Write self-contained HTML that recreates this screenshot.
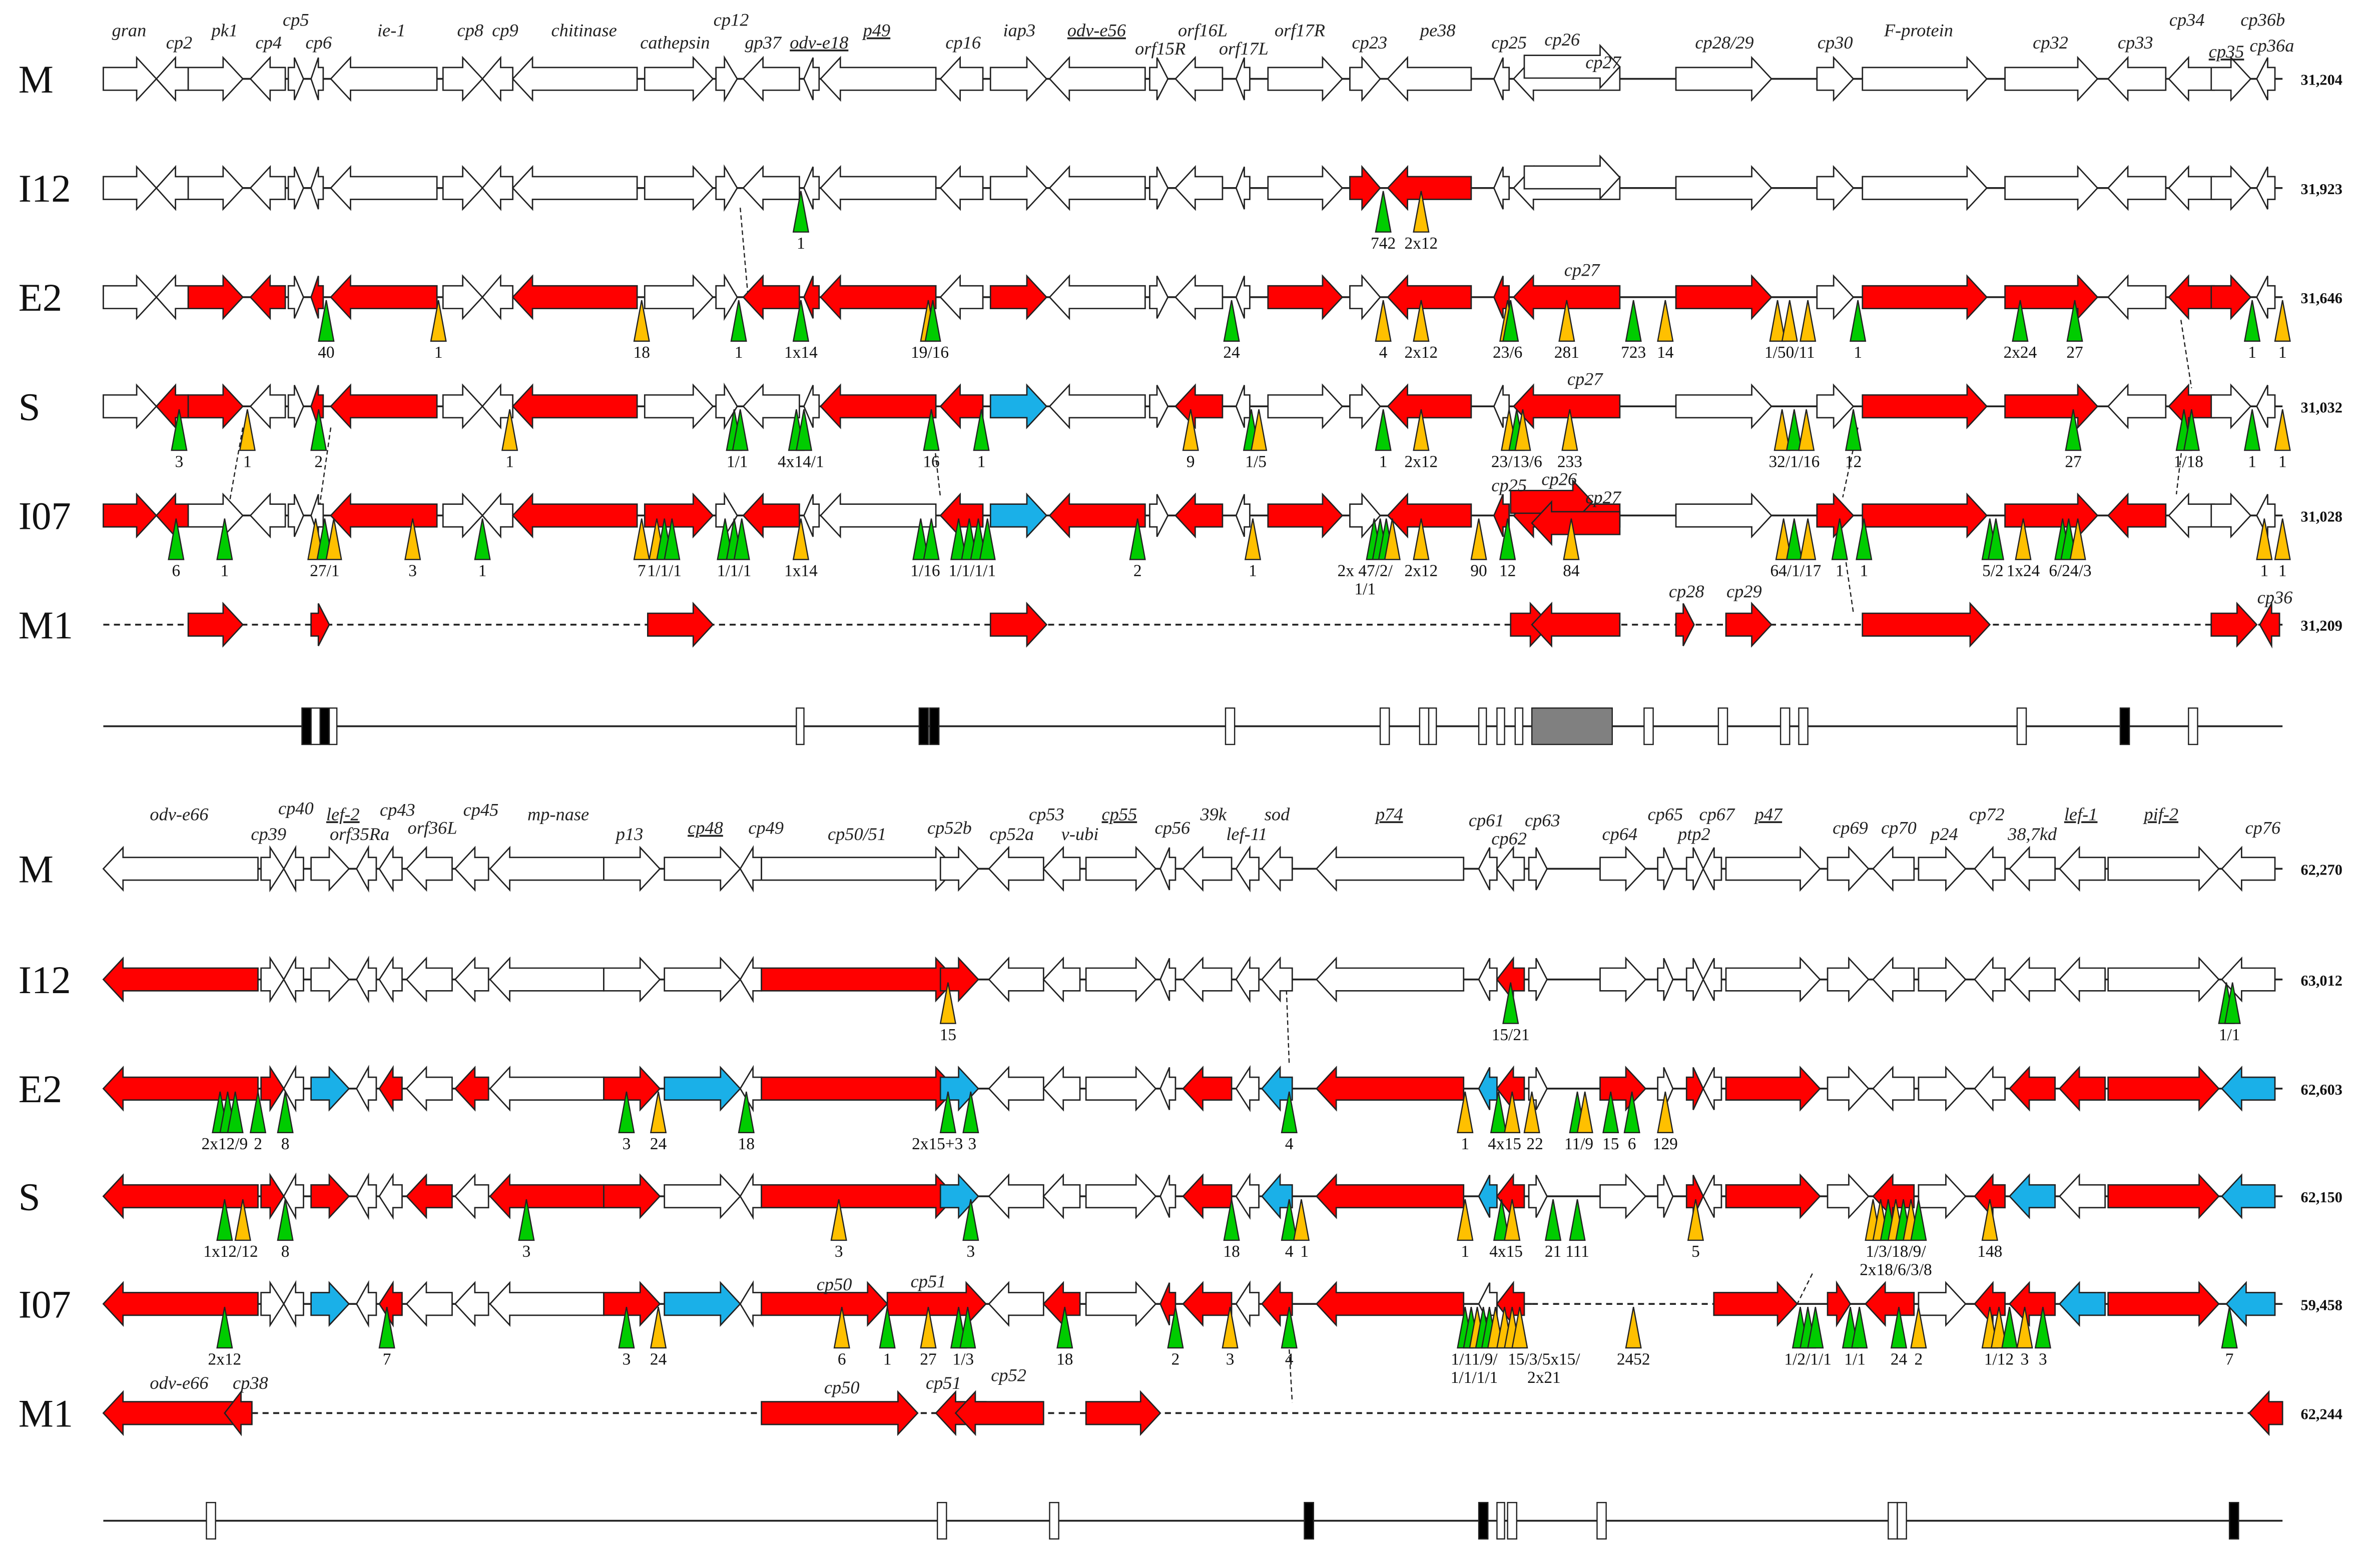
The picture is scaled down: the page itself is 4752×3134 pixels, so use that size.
<!DOCTYPE html>
<html><head><meta charset="utf-8">
<style>
html,body{margin:0;padding:0;background:#fff;}
svg{display:block;}
text{font-family:"Liberation Serif",serif;}
.g{font-style:italic;font-size:12px;fill:#222;text-anchor:middle;}
.u{text-decoration:underline;}
.row{font-size:26px;fill:#111;}
.len{font-size:10px;font-weight:bold;fill:#111;}
.n{font-size:11px;fill:#111;text-anchor:middle;}
</style></head>
<body>
<svg id="s" xmlns="http://www.w3.org/2000/svg" width="4752" height="3134" viewBox="0 0 1560 1029">
<rect width="1560" height="1029" fill="#fff"/>
<g transform="scale(0.995)">
<g id="lines"></g>
<g id="arrows"></g>
<g id="tris"></g>
<text class="row" x="12" y="61">M</text>
<text class="row" x="12" y="133">I12</text>
<text class="row" x="12" y="205">E2</text>
<text class="row" x="12" y="277">S</text>
<text class="row" x="12" y="349">I07</text>
<text class="row" x="12" y="421">M1</text>
<text class="row" x="12" y="582">M</text>
<text class="row" x="12" y="655">I12</text>
<text class="row" x="12" y="727">E2</text>
<text class="row" x="12" y="798">S</text>
<text class="row" x="12" y="869">I07</text>
<text class="row" x="12" y="941">M1</text>
<text class="len" x="1517" y="56">31,204</text>
<text class="len" x="1517" y="128">31,923</text>
<text class="len" x="1517" y="200">31,646</text>
<text class="len" x="1517" y="272">31,032</text>
<text class="len" x="1517" y="344">31,028</text>
<text class="len" x="1517" y="416">31,209</text>
<text class="len" x="1517" y="577">62,270</text>
<text class="len" x="1517" y="650">63,012</text>
<text class="len" x="1517" y="722">62,603</text>
<text class="len" x="1517" y="793">62,150</text>
<text class="len" x="1517" y="864">59,458</text>
<text class="len" x="1517" y="936">62,244</text>
<text class="g" x="85" y="24">gran</text>
<text class="g" x="118" y="32">cp2</text>
<text class="g" x="148" y="24">pk1</text>
<text class="g" x="177" y="32">cp4</text>
<text class="g" x="195" y="17">cp5</text>
<text class="g" x="210" y="32">cp6</text>
<text class="g" x="258" y="24">ie-1</text>
<text class="g" x="310" y="24">cp8</text>
<text class="g" x="333" y="24">cp9</text>
<text class="g" x="385" y="24">chitinase</text>
<text class="g" x="445" y="32">cathepsin</text>
<text class="g" x="482" y="17">cp12</text>
<text class="g" x="503" y="32">gp37</text>
<text class="g u" x="540" y="32">odv-e18</text>
<text class="g u" x="578" y="24">p49</text>
<text class="g" x="635" y="32">cp16</text>
<text class="g" x="672" y="24">iap3</text>
<text class="g u" x="723" y="24">odv-e56</text>
<text class="g" x="793" y="24">orf16L</text>
<text class="g" x="765" y="36">orf15R</text>
<text class="g" x="820" y="36">orf17L</text>
<text class="g" x="857" y="24">orf17R</text>
<text class="g" x="903" y="32">cp23</text>
<text class="g" x="948" y="24">pe38</text>
<text class="g" x="995" y="32">cp25</text>
<text class="g" x="1030" y="30">cp26</text>
<text class="g" x="1057" y="45">cp27</text>
<text class="g" x="1137" y="32">cp28/29</text>
<text class="g" x="1210" y="32">cp30</text>
<text class="g" x="1265" y="24">F-protein</text>
<text class="g" x="1352" y="32">cp32</text>
<text class="g" x="1408" y="32">cp33</text>
<text class="g" x="1442" y="17">cp34</text>
<text class="g" x="1492" y="17">cp36b</text>
<text class="g u" x="1468" y="38">cp35</text>
<text class="g" x="1498" y="34">cp36a</text>
<text class="g" x="1043" y="182">cp27</text>
<text class="g" x="1045" y="254">cp27</text>
<text class="g" x="995" y="324">cp25</text>
<text class="g" x="1028" y="320">cp26</text>
<text class="g" x="1057" y="332">cp27</text>
<text class="g" x="1112" y="394">cp28</text>
<text class="g" x="1150" y="394">cp29</text>
<text class="g" x="1500" y="398">cp36</text>
<text class="g" x="118" y="541">odv-e66</text>
<text class="g" x="177" y="554">cp39</text>
<text class="g" x="195" y="537">cp40</text>
<text class="g u" x="226" y="541">lef-2</text>
<text class="g" x="237" y="554">orf35Ra</text>
<text class="g" x="262" y="538">cp43</text>
<text class="g" x="285" y="550">orf36L</text>
<text class="g" x="317" y="538">cp45</text>
<text class="g" x="368" y="541">mp-nase</text>
<text class="g" x="415" y="554">p13</text>
<text class="g u" x="465" y="550">cp48</text>
<text class="g" x="505" y="550">cp49</text>
<text class="g" x="565" y="554">cp50/51</text>
<text class="g" x="626" y="550">cp52b</text>
<text class="g" x="667" y="554">cp52a</text>
<text class="g" x="690" y="541">cp53</text>
<text class="g" x="712" y="554">v-ubi</text>
<text class="g u" x="738" y="541">cp55</text>
<text class="g" x="773" y="550">cp56</text>
<text class="g" x="800" y="541">39k</text>
<text class="g" x="822" y="554">lef-11</text>
<text class="g" x="842" y="541">sod</text>
<text class="g u" x="916" y="541">p74</text>
<text class="g" x="980" y="545">cp61</text>
<text class="g" x="995" y="557">cp62</text>
<text class="g" x="1017" y="545">cp63</text>
<text class="g" x="1068" y="554">cp64</text>
<text class="g" x="1098" y="541">cp65</text>
<text class="g" x="1117" y="554">ptp2</text>
<text class="g" x="1132" y="541">cp67</text>
<text class="g u" x="1166" y="541">p47</text>
<text class="g" x="1220" y="550">cp69</text>
<text class="g" x="1252" y="550">cp70</text>
<text class="g" x="1282" y="554">p24</text>
<text class="g" x="1310" y="541">cp72</text>
<text class="g" x="1340" y="554">38,7kd</text>
<text class="g u" x="1372" y="541">lef-1</text>
<text class="g u" x="1425" y="541">pif-2</text>
<text class="g" x="1492" y="550">cp76</text>
<text class="g" x="550" y="851">cp50</text>
<text class="g" x="612" y="849">cp51</text>
<text class="g" x="118" y="916">odv-e66</text>
<text class="g" x="165" y="916">cp38</text>
<text class="g" x="555" y="919">cp50</text>
<text class="g" x="622" y="916">cp51</text>
<text class="g" x="665" y="911">cp52</text>
</g>
</svg>
<script>
var NS="http://www.w3.org/2000/svg";
function el(p,t,a,txt){var e=document.createElementNS(NS,t);for(var k in a)e.setAttribute(k,a[k]);if(txt!==undefined)e.textContent=txt;document.getElementById(p).appendChild(e);return e;}
var COL={w:"#fff",r:"#ff0000",b:"#1ab0e8"};
function arrow(x1,x2,y,dir,c){var len=x2-x1,h=Math.min(13,len*0.6),bh=7.5,hh=14,p;
 if(dir=="R")p=[x1,y-bh,x2-h,y-bh,x2-h,y-hh,x2,y,x2-h,y+hh,x2-h,y+bh,x1,y+bh];
 else p=[x2,y-bh,x1+h,y-bh,x1+h,y-hh,x1,y,x1+h,y+hh,x1+h,y+bh,x2,y+bh];
 el("arrows","polygon",{points:p.join(","),fill:COL[c||"w"],stroke:"#222","stroke-width":0.9});}
function line(x1,x2,y,dash){el("lines","line",{x1:x1,x2:x2,y1:y,y2:y,stroke:"#222","stroke-width":1.2,"stroke-dasharray":dash?"4,3":"none"});}
function tri(x,y,c){el("tris","polygon",{points:[x-5,y+29,x+5,y+29,x,y+2].join(","),fill:c=="g"?"#00cc00":"#ffc000",stroke:"#222","stroke-width":0.8});}
function lab(x,y,t){var ls=t.split("|");for(var i=0;i<ls.length;i++)el("tris","text",{x:x,y:y+40+i*12,"class":"n"},ls[i]);}
var T=[[68,103,"R"],[103,124,"L"],[124,160,"R"],[165,188,"L"],[190,200,"R"],[205,213,"L"],[218,288,"L"],[292,318,"R"],[318,338,"L"],[338,420,"L"],[425,470,"R"],[472,486,"R"],[490,527,"L"],[530,540,"L"],[541,617,"L"],[620,648,"L"],[653,690,"R"],[692,755,"L"],[758,770,"R"],[775,806,"L"],[815,824,"L"],[836,885,"R"],[890,910,"R"],[915,970,"L"],[985,995,"L"],[998,1068,"L"],[1105,1168,"R"],[1198,1222,"R"],[1228,1310,"R"],[1322,1383,"R"],[1390,1428,"L"],[1430,1460,"L"],[1458,1484,"R"],[1488,1500,"L"]];
var B=[[68,170,"L"],[172,187,"R"],[187,200,"L"],[205,230,"R"],[235,248,"L"],[250,265,"L"],[268,298,"L"],[300,322,"L"],[323,398,"L"],[398,435,"R"],[438,488,"R"],[488,502,"L"],[502,630,"R"],[620,645,"R"],[652,688,"L"],[688,712,"L"],[716,762,"R"],[765,775,"L"],[780,812,"L"],[815,830,"L"],[832,852,"L"],[868,965,"L"],[975,987,"L"],[987,1005,"L"],[1008,1020,"R"],[1055,1085,"R"],[1093,1103,"R"],[1112,1123,"R"],[1123,1135,"L"],[1138,1200,"R"],[1205,1232,"R"],[1235,1262,"L"],[1265,1296,"R"],[1302,1322,"L"],[1325,1355,"L"],[1358,1388,"L"],[1390,1463,"R"],[1465,1500,"L"]];
function row(list,y,map,skip){line(68,1505,y);for(var i=0;i<list.length;i++){if(skip&&skip.indexOf(i)>=0)continue;var g=list[i];arrow(g[0],g[1],y,g[2],map[i]);}}
function m(s){var o={};s.split(",").forEach(function(p){var a=p.split(":");o[+a[0]]=a[1];});return o;}
row(T,52,{});
row(T,124,m("22:r,23:r"));
arrow(1005,1068,44,"R","w");arrow(1005,1068,117,"R","w");
row(T,196,m("2:r,3:r,5:r,6:r,9:r,12:r,13:r,14:r,16:r,21:r,23:r,24:r,25:r,26:r,28:r,29:r,31:r,32:r"));
row(T,268,m("1:r,2:r,5:r,6:r,9:r,14:r,15:r,16:b,19:r,23:r,25:r,28:r,29:r,31:r"));
row(T,340,m("0:r,1:r,6:r,9:r,10:r,12:r,15:r,16:b,17:r,19:r,21:r,23:r,24:r,25:r,27:r,28:r,29:r,30:r"));
arrow(996,1050,331,"R","r");arrow(1010,1068,345,"L","r");
line(68,1505,412,true);
[[124,160,"R"],[205,217,"R"],[427,470,"R"],[653,690,"R"],[996,1022,"R"],[1010,1068,"L"],[1105,1117,"R"],[1138,1168,"R"],[1228,1312,"R"],[1458,1488,"R"],[1490,1503,"L"]].forEach(function(g){arrow(g[0],g[1],412,g[2],"r");});
row(B,573,{});
row(B,646,m("0:r,12:r,13:r,23:r"));
row(B,718,m("0:r,1:r,3:b,5:r,7:r,9:r,10:b,12:r,13:b,18:r,20:b,21:r,22:b,23:r,25:r,27:r,29:r,34:r,35:r,36:r,37:b"));
row(B,789,m("0:r,1:r,3:r,6:r,8:r,9:r,12:r,13:b,18:r,20:b,21:r,22:b,23:r,27:r,29:r,31:r,33:r,34:b,36:r,37:b"));
line(68,1010,860);line(1010,1130,860,true);line(1130,1505,860);
(function(){var mp=m("0:r,3:b,5:r,9:r,10:b,12:r,13:r,15:r,17:r,18:r,20:r,21:r,23:r");
for(var i=0;i<=23;i++){if(i==12){arrow(502,585,860,"R","r");arrow(585,650,860,"R","r");continue;}if(i==13)continue;arrow(B[i][0],B[i][1],860,B[i][2],mp[i]);}
arrow(1130,1185,860,"R","r");arrow(1205,1220,860,"R","r");arrow(1230,1262,860,"L","r");arrow(1265,1296,860,"R","w");arrow(1302,1322,860,"L","r");arrow(1325,1355,860,"L","r");arrow(1358,1388,860,"L","b");arrow(1390,1463,860,"R","r");arrow(1468,1500,860,"L","b");})();
line(68,1505,932,true);
[[68,165,"L","r"],[148,166,"L","r"],[502,605,"R","r"],[617,650,"L","r"],[630,688,"L","r"],[716,765,"R","r"],[1483,1505,"L","r"]].forEach(function(g){arrow(g[0],g[1],932,g[2],g[3]);});
function bar(y,boxes){line(68,1505,y);boxes.forEach(function(b){el("lines","rect",{x:b[0],y:y-12,width:b[1],height:24,fill:b[2]=="k"?"#000":b[2]=="g"?"#808080":"#fff",stroke:"#222","stroke-width":0.8});});}
bar(479,[[199,6,"k"],[205,6,"w"],[211,6,"k"],[217,5,"w"],[525,5,"w"],[606,6,"k"],[613,6,"k"],[808,6,"w"],[910,6,"w"],[936,6,"w"],[942,5,"w"],[975,5,"w"],[987,5,"w"],[999,5,"w"],[1010,53,"g"],[1084,6,"w"],[1133,6,"w"],[1174,6,"w"],[1186,6,"w"],[1330,6,"w"],[1398,6,"k"],[1443,6,"w"]]);
bar(1003,[[136,6,"w"],[618,6,"w"],[692,6,"w"],[860,6,"k"],[975,6,"k"],[987,5,"w"],[994,6,"w"],[1053,6,"w"],[1245,6,"w"],[1251,6,"w"],[1470,6,"k"]]);
[[488,137,493,194],[160,282,150,338],[218,282,210,338],[615,284,620,328],[1438,211,1445,256],[1440,284,1435,326],[1225,282,1215,328],[1215,356,1222,404],[848,648,850,702],[1195,840,1185,860],[850,890,852,925]].forEach(function(c){el("lines","line",{x1:c[0],y1:c[1],x2:c[2],y2:c[3],stroke:"#222","stroke-width":0.8,"stroke-dasharray":"3,2"});});
function tg(y,items,labels){items.forEach(function(t){tri(t[0],y,t[1]);});labels.forEach(function(l){lab(l[0],y,l[1]);});}
tg(124,[[528,"g"],[912,"g"],[937,"o"]],[[528,"1"],[912,"742"],[937,"2x12"]]);
tg(196,[[215,"g"],[289,"o"],[423,"o"],[487,"g"],[528,"g"],[612,"o"],[615,"g"],[812,"g"],[912,"o"],[937,"o"],[994,"o"],[996,"g"],[1033,"o"],[1077,"g"],[1098,"o"],[1172,"o"],[1180,"o"],[1192,"o"],[1225,"g"],[1332,"g"],[1368,"g"],[1485,"g"],[1505,"o"]],
 [[215,"40"],[289,"1"],[423,"18"],[487,"1"],[528,"1x14"],[613,"19/16"],[812,"24"],[912,"4"],[937,"2x12"],[994,"23/6"],[1033,"281"],[1077,"723"],[1098,"14"],[1180,"1/50/11"],[1225,"1"],[1332,"2x24"],[1368,"27"],[1485,"1"],[1505,"1"]]);
tg(268,[[118,"g"],[163,"o"],[210,"g"],[336,"o"],[484,"g"],[488,"g"],[525,"g"],[530,"g"],[614,"g"],[647,"g"],[785,"o"],[825,"g"],[830,"o"],[912,"g"],[937,"o"],[995,"o"],[1000,"g"],[1004,"o"],[1035,"o"],[1175,"o"],[1183,"g"],[1191,"o"],[1222,"g"],[1367,"g"],[1440,"g"],[1445,"g"],[1485,"g"],[1505,"o"]],
 [[118,"3"],[163,"1"],[210,"2"],[336,"1"],[486,"1/1"],[528,"4x14/1"],[614,"16"],[647,"1"],[785,"9"],[828,"1/5"],[912,"1"],[937,"2x12"],[1000,"23/13/6"],[1035,"233"],[1183,"32/1/16"],[1222,"12"],[1367,"27"],[1443,"1/18"],[1485,"1"],[1505,"1"]]);
tg(340,[[116,"g"],[148,"g"],[208,"o"],[214,"g"],[220,"o"],[272,"o"],[318,"g"],[423,"o"],[433,"o"],[438,"g"],[443,"g"],[478,"g"],[484,"g"],[489,"g"],[528,"o"],[607,"g"],[614,"g"],[632,"g"],[639,"g"],[645,"g"],[651,"g"],[750,"g"],[826,"o"],[906,"g"],[910,"g"],[914,"g"],[918,"o"],[937,"o"],[975,"o"],[994,"g"],[1036,"o"],[1176,"o"],[1183,"g"],[1192,"o"],[1213,"g"],[1229,"g"],[1312,"g"],[1316,"g"],[1334,"o"],[1360,"g"],[1364,"g"],[1370,"o"],[1493,"o"],[1505,"o"]],
 [[116,"6"],[148,"1"],[214,"27/1"],[272,"3"],[318,"1"],[423,"7"],[438,"1/1/1"],[484,"1/1/1"],[528,"1x14"],[610,"1/16"],[641,"1/1/1/1"],[750,"2"],[826,"1"],[900,"2x 47/2/|1/1"],[937,"2x12"],[975,"90"],[994,"12"],[1036,"84"],[1184,"64/1/17"],[1213,"1"],[1229,"1"],[1314,"5/2"],[1334,"1x24"],[1365,"6/24/3"],[1493,"1"],[1505,"1"]]);
tg(646,[[625,"o"],[996,"g"],[1468,"g"],[1472,"g"]],[[625,"15"],[996,"15/21"],[1470,"1/1"]]);
tg(718,[[145,"g"],[150,"g"],[155,"g"],[170,"g"],[188,"g"],[413,"g"],[434,"o"],[492,"g"],[625,"g"],[640,"g"],[850,"g"],[966,"o"],[988,"g"],[997,"o"],[1010,"o"],[1040,"g"],[1045,"o"],[1062,"g"],[1076,"g"],[1098,"o"]],
 [[148,"2x12/9"],[170,"2"],[188,"8"],[413,"3"],[434,"24"],[492,"18"],[618,"2x15+3"],[641,"3"],[850,"4"],[966,"1"],[992,"4x15"],[1012,"22"],[1041,"11/9"],[1062,"15"],[1076,"6"],[1098,"129"]]);
tg(789,[[148,"g"],[160,"o"],[188,"g"],[347,"g"],[553,"o"],[640,"g"],[812,"g"],[850,"g"],[858,"o"],[966,"o"],[990,"g"],[997,"o"],[1024,"g"],[1040,"g"],[1118,"o"],[1235,"o"],[1240,"o"],[1245,"g"],[1250,"o"],[1255,"g"],[1260,"o"],[1265,"g"],[1312,"o"]],
 [[152,"1x12/12"],[188,"8"],[347,"3"],[553,"3"],[640,"3"],[812,"18"],[850,"4"],[860,"1"],[966,"1"],[993,"4x15"],[1024,"21"],[1040,"111"],[1118,"5"],[1250,"1/3/18/9/|2x18/6/3/8"],[1312,"148"]]);
tg(860,[[148,"g"],[255,"g"],[413,"g"],[434,"o"],[555,"o"],[585,"g"],[612,"o"],[632,"g"],[638,"g"],[702,"g"],[775,"g"],[811,"o"],[850,"g"],[966,"g"],[970,"g"],[974,"o"],[978,"g"],[982,"g"],[986,"o"],[992,"o"],[997,"o"],[1002,"o"],[1077,"o"],[1187,"g"],[1192,"g"],[1197,"g"],[1220,"g"],[1226,"g"],[1252,"g"],[1265,"o"],[1312,"o"],[1318,"o"],[1325,"g"],[1335,"o"],[1347,"g"],[1470,"g"]],
 [[148,"2x12"],[255,"7"],[413,"3"],[434,"24"],[555,"6"],[585,"1"],[612,"27"],[635,"1/3"],[702,"18"],[775,"2"],[811,"3"],[850,"4"],[972,"1/11/9/|1/1/1/1"],[1018,"15/3/5x15/|2x21"],[1077,"2452"],[1192,"1/2/1/1"],[1223,"1/1"],[1252,"24"],[1265,"2"],[1318,"1/12"],[1335,"3"],[1347,"3"],[1470,"7"]]);
</script>
</body></html>
